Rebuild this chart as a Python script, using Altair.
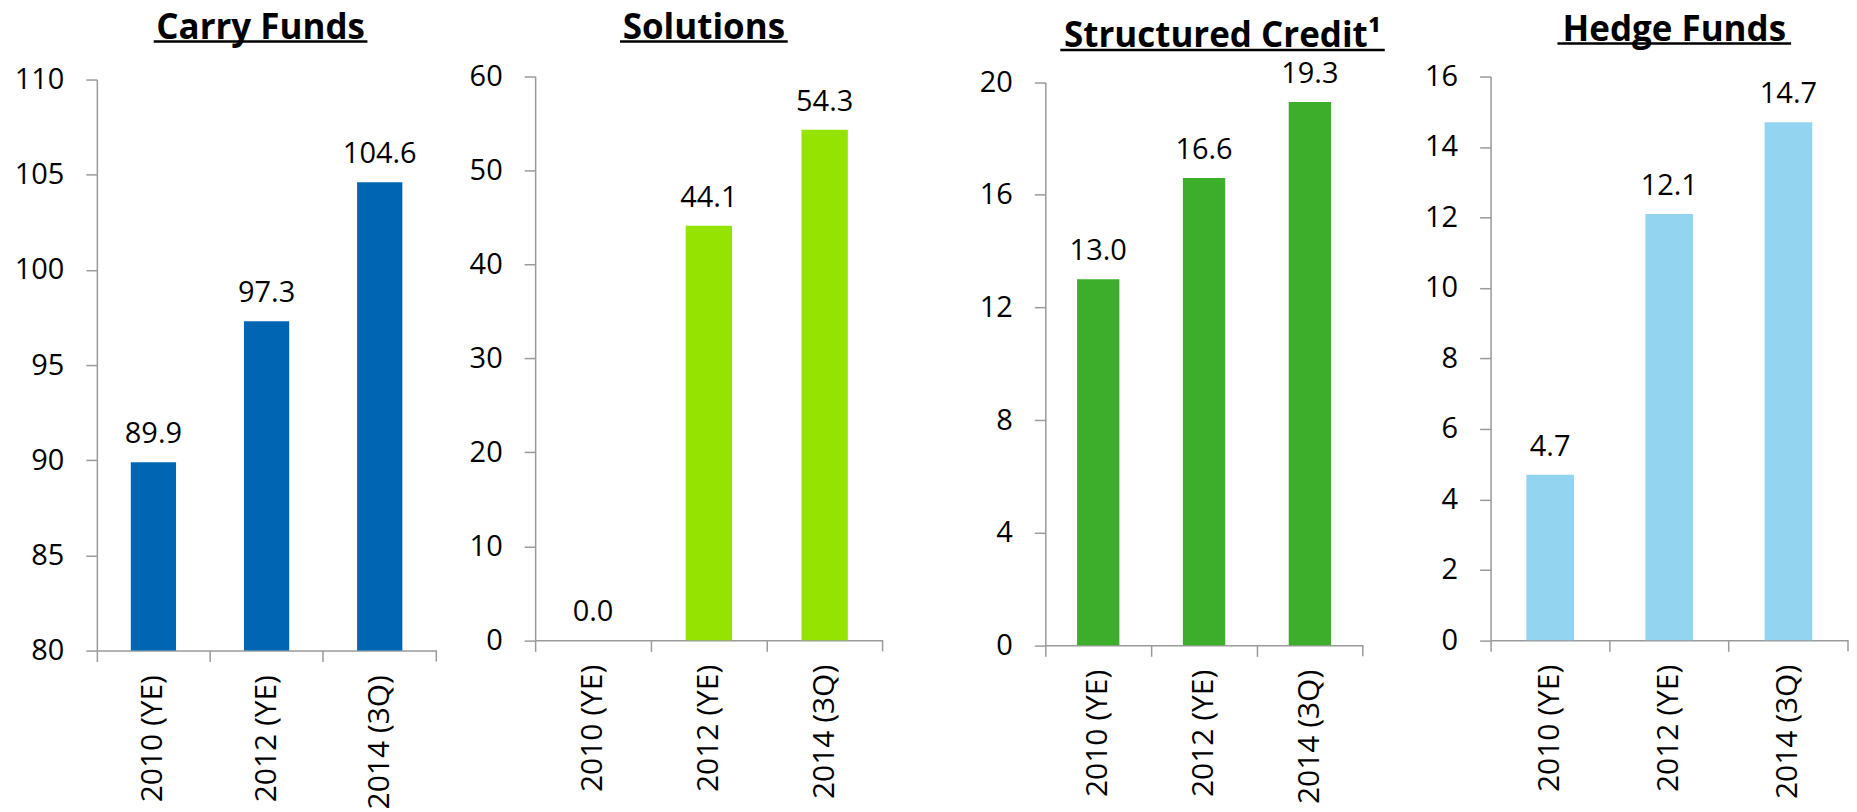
import altair as alt
import pandas as pd

# ---- data -------------------------------------------------------------
categories = ["2010 (YE)", "2012 (YE)", "2014 (3Q)"]
carry_funds = [89.9, 97.3, 104.6]
solutions = [0.0, 44.1, 54.3]
structured_credit = [13.0, 16.6, 19.3]
hedge_funds = [4.7, 12.1, 14.7]

titles = ["Carry Funds", "Solutions", "Structured Credit\u00b9", "Hedge Funds"]
series = [carry_funds, solutions, structured_credit, hedge_funds]
y_domains = [[80, 110], [0, 60], [0, 20], [0, 16]]
y_ticks = [
    [80, 85, 90, 95, 100, 105, 110],
    [0, 10, 20, 30, 40, 50, 60],
    [0, 4, 8, 12, 16, 20],
    [0, 2, 4, 6, 8, 10, 12, 14, 16],
]

# ---- styling / layout (page pixel positions) --------------------------
colors = ["#0066B3", "#95E300", "#3DAE2B", "#93D4F1"]
GRAY = "#9a9a9a"
FONT = "Open Sans"
O = 88  # page y of the panels' origin

layout = [
    dict(ox=97, rw=340, vw=439, top=79, bottom=651, tcx=164, tw=214, base=38, ul=41),
    dict(ox=536, rw=348, vw=511, top=75.7, bottom=640.7, tcx=169, tw=168, base=38, ul=41),
    dict(ox=1047, rw=318, vw=446, top=81.7, bottom=645.7, tcx=177.5, tw=325, base=46.5, ul=49.5),
    dict(ox=1493, rw=358, vw=358, top=76, bottom=640.7, tcx=184, tw=234, base=40, ul=43),
]

deco = pd.DataFrame({"d": [0]})


def make_panel(i):
    p = layout[i]
    h = p["bottom"] - O
    df = pd.DataFrame({"category": categories, "value": series[i]})

    x = alt.X(
        "category:N",
        sort=categories,
        scale=alt.Scale(type="band", paddingInner=0, paddingOuter=0, range=[0, p["rw"]]),
        axis=alt.Axis(
            title=None,
            bandPosition=0,
            labelAngle=-90,
            tickSize=11,
            labelPadding=13,
            labelFontSize=30,
            grid=False,
        ),
    )
    y = alt.Y(
        "value:Q",
        scale=alt.Scale(domain=y_domains[i], range=[h, p["top"] - O], nice=False, zero=False),
        axis=alt.Axis(
            title=None,
            values=y_ticks[i],
            tickSize=11,
            labelPadding=22,
            labelFontSize=29,
            grid=False,
        ),
    )

    bars = alt.Chart(df).mark_bar(width={"band": 0.4}, color=colors[i]).encode(
        x=x, y=y, y2=alt.datum(y_domains[i][0])
    )
    labels = alt.Chart(df).mark_text(
        baseline="alphabetic", dy=-19, fontSize=29, font=FONT, color="black"
    ).encode(
        x=alt.X("category:N", sort=categories),
        y=alt.Y("value:Q"),
        text=alt.Text("value:Q", format=".1f"),
    )
    end_tick = alt.Chart(deco).mark_rule(color=GRAY, strokeWidth=1.5).encode(
        x=alt.value(p["rw"]), y=alt.value(h), y2=alt.value(h + 11)
    )
    title = alt.Chart(deco).mark_text(
        text=titles[i], font=FONT, fontSize=35, fontWeight="bold",
        align="center", baseline="alphabetic", color="black",
    ).encode(x=alt.value(p["tcx"]), y=alt.value(p["base"] - O))
    underline = alt.Chart(deco).mark_rule(color="black", strokeWidth=2.5).encode(
        x=alt.value(p["tcx"] - p["tw"] / 2),
        x2=alt.value(p["tcx"] + p["tw"] / 2),
        y=alt.value(p["ul"] - O),
    )
    layers = [bars, labels, end_tick, title, underline]
    if i == 0:
        anchor = alt.Chart(deco).mark_rule(opacity=0, strokeWidth=1).encode(
            x=alt.value(8.5 - p["ox"]), x2=alt.value(9.5 - p["ox"]), y=alt.value(8.5 - O)
        )
        layers.append(anchor)
    return alt.layer(*layers).properties(width=p["vw"], height=h)


chart = (
    alt.hconcat(*[make_panel(i) for i in range(4)], spacing=0, bounds="flush")
    .properties(padding=0)
    .configure_view(strokeWidth=0)
    .configure_axis(
        domainColor=GRAY,
        tickColor=GRAY,
        domainWidth=1.5,
        tickWidth=1.5,
        labelFont=FONT,
        labelColor="black",
    )
)

chart.save("out.html", embed_options={"renderer": "svg", "actions": False})
